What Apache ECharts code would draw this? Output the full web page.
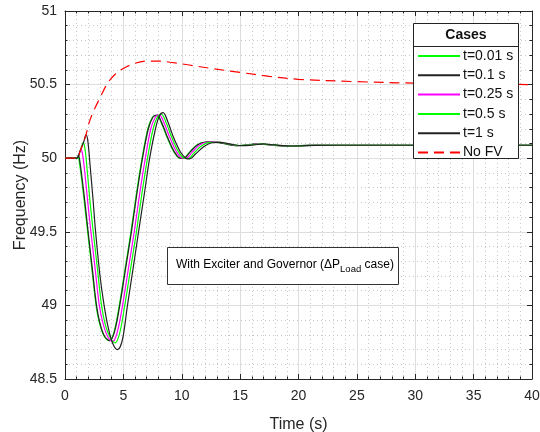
<!DOCTYPE html>
<html>
<head>
<meta charset="utf-8">
<script src="https://cdn.jsdelivr.net/npm/echarts@6/dist/echarts.min.js"></script>
<style>html,body{margin:0;padding:0;background:#fff}#c{width:540px;height:432px}</style>
</head>
<body>
<div id="c"></div>
<script>
// ---- data ----
var seriesNames = ['t=0.01 s', 't=0.1 s', 't=0.25 s', 't=0.5 s', 't=1 s', 'No FV'];
var xTicks = [0, 5, 10, 15, 20, 25, 30, 35, 40];
var yTicks = [48.5, 49, 49.5, 50, 50.5, 51];

var t001 = [[0,50],[1,50],[1.12,50.015],[1.2,49.99],[1.45,49.84],[1.7,49.67],[1.94,49.5],[2.3,49.25],[2.66,49.0],[2.95,48.88],[3.35,48.79],[3.8,48.76],[4.2,48.82],[4.65,49.0],[5.15,49.25],[5.65,49.5],[6.1,49.75],[6.6,50.0],[7.1,50.2],[7.5,50.28],[7.85,50.29],[8.25,50.24],[8.75,50.14],[9.35,50.04],[9.85,50.0],[10.15,50.0],[10.65,50.04],[11.3,50.09],[12,50.11],[12.6,50.112],[13.5,50.1],[14.7,50.085],[15.5,50.09],[16.4,50.097],[17.5,50.09],[19,50.083],[21,50.087],[25,50.088],[40,50.088]];
var t01 = [[0,50],[1,50],[1.15,50.02],[1.25,49.99],[1.5,49.84],[1.75,49.67],[1.98,49.5],[2.34,49.25],[2.7,49.0],[2.99,48.88],[3.39,48.79],[3.84,48.76],[4.24,48.82],[4.69,49.0],[5.19,49.25],[5.69,49.5],[6.14,49.75],[6.64,50.0],[7.14,50.2],[7.54,50.28],[7.89,50.292],[8.29,50.24],[8.79,50.14],[9.39,50.04],[9.89,50.0],[10.19,50.0],[10.69,50.04],[11.34,50.09],[12.04,50.11],[12.64,50.112],[13.54,50.1],[14.74,50.085],[15.54,50.09],[16.44,50.097],[17.54,50.09],[19.04,50.083],[21,50.087],[25,50.088],[40,50.088]];
var t025 = [[0,50],[1,50],[1.2,50.03],[1.37,50.056],[1.5,50.03],[1.7,49.9],[1.95,49.7],[2.22,49.5],[2.58,49.25],[2.94,49.0],[3.25,48.88],[3.65,48.79],[4.08,48.754],[4.48,48.82],[4.93,49.0],[5.43,49.25],[5.93,49.5],[6.38,49.75],[6.88,50.0],[7.35,50.2],[7.75,50.28],[8.08,50.295],[8.48,50.24],[8.98,50.14],[9.58,50.04],[10.08,50.0],[10.38,50.0],[10.88,50.04],[11.53,50.09],[12.23,50.11],[12.85,50.112],[13.75,50.1],[14.9,50.085],[15.7,50.09],[16.6,50.097],[17.7,50.09],[19.2,50.083],[21.2,50.087],[25,50.088],[40,50.088]];
var t05 = [[0,50],[1,50],[1.3,50.05],[1.57,50.106],[1.72,50.06],[1.9,49.92],[2.15,49.7],[2.42,49.5],[2.78,49.25],[3.13,49.0],[3.45,48.87],[3.85,48.785],[4.28,48.745],[4.68,48.81],[5.12,49.0],[5.62,49.25],[6.12,49.5],[6.57,49.75],[7.07,50.0],[7.55,50.2],[7.95,50.285],[8.25,50.3],[8.65,50.245],[9.15,50.14],[9.75,50.04],[10.25,50.0],[10.55,49.998],[11.05,50.035],[11.7,50.085],[12.4,50.108],[13.05,50.11],[13.9,50.098],[15.05,50.085],[15.9,50.09],[16.8,50.097],[17.8,50.09],[19.3,50.083],[21.3,50.087],[25,50.088],[40,50.088]];
var t1 = [[0,50],[1,50],[1.3,50.05],[1.6,50.11],[1.8,50.158],[1.95,50.12],[2.15,49.95],[2.4,49.72],[2.62,49.5],[3.0,49.2],[3.35,49.0],[3.7,48.85],[4.1,48.74],[4.5,48.70],[4.9,48.76],[5.35,49.0],[5.85,49.26],[6.3,49.5],[6.8,49.76],[7.25,50.0],[7.75,50.2],[8.1,50.29],[8.4,50.31],[8.8,50.25],[9.3,50.14],[9.9,50.04],[10.35,50.0],[10.65,49.995],[11.2,50.03],[11.9,50.08],[12.6,50.105],[13.3,50.108],[14.2,50.095],[15.2,50.085],[16.2,50.09],[17,50.097],[18,50.09],[19.5,50.083],[21.5,50.087],[25,50.088],[40,50.088]];
var noFV = [[0,50],[1,50],[1.3,50.05],[1.6,50.11],[1.8,50.16],[2.1,50.25],[2.5,50.33],[3,50.41],[3.65,50.51],[4.3,50.57],[5,50.61],[6,50.645],[7,50.66],[8,50.66],[9,50.652],[10.65,50.633],[12.5,50.61],[15,50.583],[17.5,50.556],[20,50.536],[25,50.52],[30,50.51],[35,50.504],[40,50.5]];

var colors = ['#00ff00', '#222222', '#ff00ff', '#00ff00', '#222222', '#ff0000'];
var datasets = [t001, t01, t025, t05, t1, noFV];

var chart = echarts.init(document.getElementById('c'), null, {renderer: 'canvas'});
var axisColor = '#262626';
var font = 'Liberation Sans, Arial, sans-serif';

var series = datasets.map(function (d, i) {
  return {
    name: seriesNames[i],
    type: 'line',
    data: d,
    smooth: 0.35,
    symbol: 'none',
    showSymbol: false,
    silent: true,
    animation: false,
    z: i === 5 ? 3 : 2,
    lineStyle: {color: colors[i], width: 1.2, type: i === 5 ? [10, 6] : 'solid'},
    itemStyle: {color: colors[i]}
  };
});

function baseAxis(show, interval, minV, maxV) {
  return {
    type: 'value', min: minV, max: maxV, interval: interval,
    nameMoveOverlap: false,
    axisLine: {show: true, onZero: false, lineStyle: {color: axisColor, width: 1}},
    axisTick: {show: true, inside: true, length: 5, lineStyle: {color: axisColor}},
    axisLabel: {show: show, color: axisColor, fontSize: 14, fontFamily: font, margin: 8},
    splitLine: {show: show, lineStyle: {color: '#dedede', width: 1}},
    minorTick: {show: true, splitNumber: 5, length: 2.5, lineStyle: {color: axisColor}},
    minorSplitLine: {show: show, lineStyle: {color: '#c8c8c8', width: 1, type: [1, 3]}}
  };
}
var xa = baseAxis(true, 5, xTicks[0], xTicks[xTicks.length - 1]);
xa.position = 'bottom';
xa.axisLabel.margin = 10;
xa.name = 'Time (s)'; xa.nameLocation = 'middle'; xa.nameGap = 38;
xa.nameTextStyle = {color: axisColor, fontSize: 16, fontFamily: font};
var xb = baseAxis(false, 5, xTicks[0], xTicks[xTicks.length - 1]); xb.position = 'top';
var ya = baseAxis(true, 0.5, yTicks[0], yTicks[yTicks.length - 1]);
ya.position = 'left';
ya.name = 'Frequency (Hz)'; ya.nameLocation = 'middle'; ya.nameGap = 36;
ya.nameTextStyle = {color: axisColor, fontSize: 16, fontFamily: font};
var yb = baseAxis(false, 0.5, yTicks[0], yTicks[yTicks.length - 1]); yb.position = 'right';

var option = {
  animation: false,
  backgroundColor: '#ffffff',
  grid: {left: 65, right: 8, top: 11, bottom: 53, containLabel: false, outerBoundsMode: 'none'},
  xAxis: [xa, xb],
  yAxis: [ya, yb],
  legend: {
    data: seriesNames,
    orient: 'vertical',
    left: 417, top: 49,
    itemWidth: 42, itemHeight: 14, itemGap: 5.3,
    padding: 0,
    selectedMode: false,
    z: 20,
    itemStyle: {opacity: 0},
    textStyle: {color: '#111', fontSize: 14, fontFamily: font, padding: [0, 0, 0, -2]}
  },
  graphic: [
    {type: 'rect', z: 15, shape: {x: 413.5, y: 23.5, width: 105, height: 135}, style: {fill: '#fff', stroke: '#222', lineWidth: 1}},
    {type: 'line', z: 16, shape: {x1: 413.5, y1: 46.5, x2: 518.5, y2: 46.5}, style: {stroke: '#222', lineWidth: 1}},
    {type: 'text', z: 16, x: 466, y: 35, style: {text: 'Cases', font: 'bold 14px ' + font, fill: '#111', textAlign: 'center', textVerticalAlign: 'middle'}},
    {type: 'rect', z: 15, shape: {x: 167.5, y: 247.5, width: 231, height: 37}, style: {fill: '#fff', stroke: '#333', lineWidth: 1}},
    {type: 'text', z: 16, x: 176, y: 265, style: {
      rich: {
        n: {fontSize: 12, fontFamily: font, color: '#111'},
        s: {fontSize: 9.5, fontFamily: font, color: '#111', padding: [8, 0, 0, 0]}
      },
      text: '{n|With Exciter and Governor (\u0394P}{s|Load}{n| case)}',
      textVerticalAlign: 'middle'
    }}
  ],
  series: series
};
chart.setOption(option);
</script>
</body>
</html>
